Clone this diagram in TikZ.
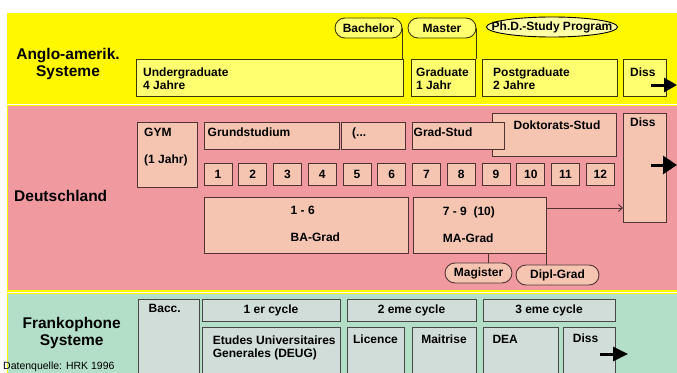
\documentclass[tikz,border=0pt]{standalone}
\usepackage{fontspec}
\setmainfont{Liberation Sans}
\usetikzlibrary{positioning,shapes.geometric,arrows.meta}

\definecolor{bandY}{HTML}{FFF800}
\definecolor{boxY}{HTML}{FFFF70}
\definecolor{ovalY}{HTML}{FFFFA8}
\definecolor{lineY}{HTML}{3A3A00}
\definecolor{bandP}{HTML}{F09AA0}
\definecolor{boxP}{HTML}{F5C5B1}
\definecolor{lineP}{HTML}{503434}
\definecolor{bandG}{HTML}{B3DEC8}
\definecolor{boxG}{HTML}{D1DDD8}
\definecolor{lineG}{HTML}{484848}

\tikzset{
  box/.style={draw, line width=0.9pt, anchor=north west, inner sep=0pt, outer sep=0pt,
    font=\bfseries\fontsize{12}{13.3}\selectfont},
  ybox/.style={box, draw=lineY, fill=boxY},
  pbox/.style={box, draw=lineP, fill=boxP},
  gbox/.style={box, draw=lineG, fill=boxG},
  num/.style={pbox, anchor=west, minimum width=28pt, minimum height=22pt},
  oval/.style={draw, line width=0.9pt, rounded corners=10pt, inner sep=0pt, outer sep=0pt,
    minimum height=20pt, font=\bfseries\fontsize{12}{13.3}\selectfont},
  lbl/.style={anchor=base west, inner sep=0pt, font=\bfseries\fontsize{12}{13.3}\selectfont},
  lbl2/.style={anchor=north west, inner sep=0pt, align=left, font=\bfseries\fontsize{12}{13.3}\selectfont},
  big/.style={inner sep=0pt, font=\bfseries\fontsize{15.5}{16.7}\selectfont},
  region/.style={big, anchor=north, align=center},
  fat/.style={line width=3pt, -{Triangle[length=13pt,width=14pt]}},
}

\begin{document}
\begin{tikzpicture}[x=1pt,y=-1pt]
\path[use as bounding box, clip] (0,0) rectangle (677,372);

% bands
\fill[bandY] (7,13) rectangle (690,103.5);
\draw[bandY, line width=1.5pt, fill=bandP] (7.5,105.5) rectangle (690,291);
\draw[bandY, line width=1.5pt, fill=bandG] (7.5,293.5) rectangle (690,390);

% Anglo-amerik. Systeme
\node[region] (anglo) at (68,48.1) {Anglo-amerik.\\Systeme};

\node[ybox, minimum width=267pt, minimum height=37pt] (ugrad) at (136,59) {};
\node[ybox, minimum width=64pt, minimum height=37pt, right=8pt of ugrad] (grad) {};
\node[ybox, minimum width=135pt, minimum height=37pt, right=7pt of grad] (pgrad) {};
\node[ybox, minimum width=43pt, minimum height=37pt, right=6pt of pgrad] (dissY) {};

\node[lbl2] (ugradT) at (143,67.4) {Undergraduate\\4 Jahre};
\node[lbl2] (gradT) at (416,67.4) {Graduate\\1 Jahr};
\node[lbl2] (pgradT) at (493,67.4) {Postgraduate\\2 Jahre};
\node[lbl] (dissYT) at (630,76) {Diss};
\coordinate (dissYa) at (651,85);
\coordinate (dissYb) at (677,85);
\draw[fat] (dissYa) -- (dissYb);

\node[oval, draw=lineY, fill=boxY, minimum width=67pt] (bach) at (368.5,28) {Bachelor};
\node[oval, draw=lineY, fill=boxY, minimum width=68pt] (mast) at (442,28) {Master};
\node[ellipse, draw=black, fill=ovalY, line width=0.9pt, inner sep=0pt, minimum width=131pt,
  minimum height=20pt, font=\bfseries\fontsize{12}{13.3}\selectfont] (phd) at (552,27)
  {\makebox[0pt]{Ph.D.-Study Program}};
\draw[lineY, line width=0.9pt] (bach.east) -- (bach.east |- ugrad.north);
\draw[lineY, line width=0.9pt] (mast.east) -- (mast.east |- grad.north);

% Deutschland
\node[big, anchor=base west] (de) at (14,201) {Deutschland};

\node[pbox, minimum width=60pt, minimum height=65pt] (gym) at (137,122) {};
\node[pbox, minimum width=135pt, minimum height=27pt] (grund) at (204,122) {};
\node[pbox, minimum width=64pt, minimum height=27pt] (etc) at (341,122) {};
\node[pbox, minimum width=124pt, minimum height=43pt] (dok) at (492,113) {};
\node[pbox, minimum width=92pt, minimum height=27pt] (gstud) at (412,122) {};
\node[pbox, minimum width=43pt, minimum height=109pt] (dissP) at (623,113) {};

\node[lbl2] (gymT) at (144,128.1) {GYM\\[13.7pt](1 Jahr)};
\node[lbl] (grundT) at (207.5,136.7) {Grundstudium};
\node[lbl] (etcT) at (352,136.5) {(...};
\node[lbl] (gstudT) at (413.5,136.5) {Grad-Stud};
\node[lbl, anchor=base] (dokT) at (557,129.3) {Doktorats-Stud};
\node[lbl] (dissPT) at (630,126.7) {Diss};
\coordinate (dissPa) at (651,165);
\coordinate (dissPb) at (677,165);
\draw[fat, -{Triangle[length=14pt,width=18pt]}] (dissPa) -- (dissPb);

\node[num] (n1) at (204,174) {1};
\node[num, right=6.75pt of n1] (n2) {2};
\node[num, right=6.75pt of n2] (n3) {3};
\node[num, right=6.75pt of n3] (n4) {4};
\node[num, right=6.75pt of n4] (n5) {5};
\node[num, right=6.75pt of n5] (n6) {6};
\node[num, right=6.75pt of n6] (n7) {7};
\node[num, right=6.75pt of n7] (n8) {8};
\node[num, right=6.75pt of n8] (n9) {9};
\node[num, right=6.75pt of n9] (n10) {10};
\node[num, right=6.75pt of n10] (n11) {11};
\node[num, right=6.75pt of n11] (n12) {12};

\node[pbox, minimum width=204pt, minimum height=56pt] (ba) at (204,197) {};
\node[pbox, minimum width=133pt, minimum height=56pt, right=5pt of ba] (ma) {};
\node[lbl2] (baT) at (290.5,206.4) {1 - 6\\[13.4pt]BA-Grad};
\node[lbl2] (maT) at (442.7,206.3) {7 - 9~ (10)\\[14.4pt]MA-Grad};

\node[oval, draw=lineP, fill=boxP, minimum width=67pt] (mag) at (478.5,273) {Magister};
\node[oval, draw=lineP, fill=boxP, minimum width=83pt] (dipl) at (557.5,275) {Dipl-Grad};
\draw[lineP, line width=0.9pt] ([xshift=10pt]mag.north) -- ([xshift=10pt]mag.north |- ma.south);
\draw[lineP, line width=0.9pt] (ma.south east) -- (ma.south east |- dipl.north);
\draw[lineP, line width=0.9pt, -{Straight Barb[length=4pt,width=7pt]}]
  ([yshift=17pt]ma.east) -- ([yshift=17pt]ma.east -| dissP.west);

% Frankophone Systeme
\node[region] (fr) at (71.7,317.1) {Frankophone\\Systeme};
\node[anchor=base west, inner sep=0pt, font=\fontsize{10.5}{12}\selectfont] (src) at (3,369.3)
  {Datenquelle: HRK 1996};

\node[gbox, minimum width=61pt, minimum height=90pt] (bacc) at (138,299) {};
\node[gbox, minimum width=138pt, minimum height=22pt] (cyc1) at (202,299) {1 er cycle};
\node[gbox, minimum width=129pt, minimum height=22pt] (cyc2) at (347,299) {2 eme cycle};
\node[gbox, minimum width=132pt, minimum height=22pt] (cyc3) at (483,299) {3 eme cycle};

\node[gbox, minimum width=138pt, minimum height=60pt] (deug) at (202,327) {};
\node[gbox, minimum width=57pt, minimum height=60pt] (lic) at (347,327) {};
\node[gbox, minimum width=64pt, minimum height=60pt] (mai) at (412,327) {};
\node[gbox, minimum width=75pt, minimum height=60pt] (dea) at (483,327) {};
\node[gbox, minimum width=52pt, minimum height=60pt] (dissG) at (563,327) {};

\node[lbl] (baccT) at (148.5,312.7) {Bacc.};
\node[lbl2] (deugT) at (212.7,335.4) {Etudes Universitaires\\Generales (DEUG)};
\node[lbl, anchor=base] (licT) at (375.5,343.3) {Licence};
\node[lbl, anchor=base] (maiT) at (444,343.3) {Maitrise};
\node[lbl] (deaT) at (492.3,343.3) {DEA};
\node[lbl] (dissGT) at (572.7,342.3) {Diss};
\coordinate (dissGa) at (600,354);
\coordinate (dissGb) at (628,354);
\draw[fat, -{Triangle[length=15pt,width=14pt]}] (dissGa) -- (dissGb);

\end{tikzpicture}
\end{document}
